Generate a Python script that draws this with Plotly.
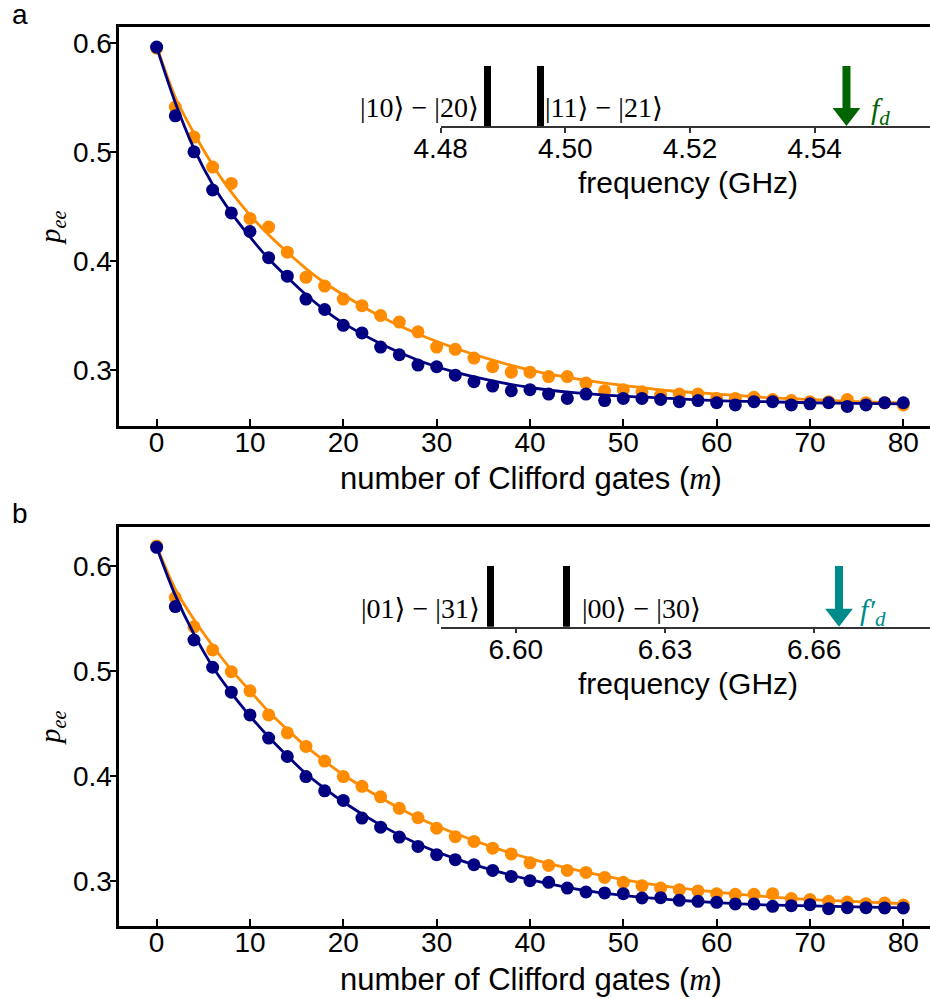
import plotly.graph_objects as go

W, H = 930, 999

# ---------------- data ----------------
m = [0, 2, 4, 6, 8, 10, 12, 14, 16, 18, 20, 22, 24, 26, 28, 30, 32, 34, 36, 38,
     40, 42, 44, 46, 48, 50, 52, 54, 56, 58, 60, 62, 64, 66, 68, 70, 72, 74, 76, 78, 80]

a_orange = [0.595, 0.541, 0.5135, 0.486, 0.471, 0.439, 0.431, 0.408, 0.385, 0.377,
            0.365, 0.359, 0.350, 0.344, 0.335, 0.321, 0.319, 0.311, 0.303, 0.298,
            0.298, 0.294, 0.294, 0.288, 0.281, 0.282, 0.280, 0.277, 0.278, 0.278,
            0.274, 0.274, 0.275, 0.273, 0.272, 0.271, 0.271, 0.273, 0.270, 0.270, 0.268]
a_blue = [0.596, 0.533, 0.500, 0.465, 0.444, 0.427, 0.403, 0.386, 0.365, 0.3555,
          0.341, 0.334, 0.321, 0.314, 0.3045, 0.303, 0.2953, 0.2893, 0.2853, 0.281,
          0.282, 0.278, 0.274, 0.278, 0.272, 0.274, 0.274, 0.273, 0.271, 0.272,
          0.270, 0.268, 0.271, 0.271, 0.268, 0.269, 0.270, 0.2666, 0.268, 0.270, 0.270]
b_orange = [0.619, 0.570, 0.542, 0.520, 0.4993, 0.481, 0.458, 0.441, 0.428, 0.414,
            0.3993, 0.390, 0.380, 0.369, 0.360, 0.350, 0.342, 0.3374, 0.331, 0.3255,
            0.317, 0.3146, 0.3098, 0.3079, 0.3031, 0.2984, 0.2952, 0.293, 0.2914, 0.2902,
            0.2876, 0.287, 0.287, 0.2876, 0.2829, 0.282, 0.2803, 0.2797, 0.2781, 0.2787, 0.2768]
b_blue = [0.6178, 0.5613, 0.5295, 0.5035, 0.4797, 0.458, 0.436, 0.4184, 0.3993, 0.3857,
          0.3765, 0.3597, 0.351, 0.3416, 0.3327, 0.3248, 0.320, 0.3152, 0.3098, 0.3041,
          0.300, 0.2984, 0.293, 0.2892, 0.2883, 0.2876, 0.2835, 0.2838, 0.2813, 0.2803,
          0.2794, 0.2778, 0.2778, 0.2756, 0.2762, 0.2771, 0.2733, 0.2743, 0.2743, 0.274, 0.274]

m_fit = [0, 2, 4, 6, 8, 10, 12, 14, 16, 18, 20, 24, 28, 32, 36, 40, 45, 50, 55, 60, 65, 70, 75, 80]
a_orange_fit = [0.597, 0.550, 0.517, 0.488, 0.463, 0.442, 0.424, 0.408, 0.393, 0.380, 0.369,
                0.349, 0.333, 0.320, 0.309, 0.300, 0.292, 0.286, 0.281, 0.278, 0.275, 0.273, 0.271, 0.270]
a_blue_fit = [0.596, 0.545, 0.503, 0.470, 0.444, 0.422, 0.402, 0.385, 0.369, 0.355, 0.343,
              0.324, 0.309, 0.298, 0.290, 0.284, 0.279, 0.276, 0.274, 0.272, 0.271, 0.270, 0.2695, 0.269]
b_orange_fit = [0.619, 0.578, 0.549, 0.524, 0.501, 0.481, 0.461, 0.444, 0.428, 0.414, 0.401,
                0.379, 0.360, 0.345, 0.332, 0.321, 0.310, 0.301, 0.294, 0.289, 0.285, 0.282, 0.280, 0.278]
b_blue_fit = [0.618, 0.572, 0.535, 0.504, 0.479, 0.457, 0.437, 0.419, 0.402, 0.388, 0.375,
              0.353, 0.335, 0.321, 0.310, 0.301, 0.292, 0.286, 0.282, 0.279, 0.277, 0.276, 0.275, 0.274]

m_ticks = [0, 10, 20, 30, 40, 50, 60, 70, 80]
p_ticks = [0.3, 0.4, 0.5, 0.6]

# inset a
freq_a_lines = [4.4875, 4.4960]
freq_a_labels = ["|10⟩ − |20⟩", "|11⟩ − |21⟩"]
freq_a_drive = 4.5451
freq_a_ticks = [4.48, 4.50, 4.52, 4.54]
# inset b
freq_b_lines = [6.5948, 6.6102]
freq_b_labels = ["|01⟩ − |31⟩", "|00⟩ − |30⟩"]
freq_b_drive = 6.6650
freq_b_ticks = [6.60, 6.63, 6.66]

ORANGE = "#FF8C00"
NAVY = "#000080"
GREEN = "#006400"
TEAL = "#008B8B"
SANS = "Liberation Sans, Arial, sans-serif"
SERIF = "Liberation Serif, DejaVu Serif, serif"
FS = 28

def px_x(p):
    return p / W

def px_y(p):
    return (H - p) / H

fig = go.Figure()

def add_panel(xa, ya, orange, blue, ofit, bfit):
    fig.add_trace(go.Scatter(x=m, y=orange, mode="markers", xaxis=xa, yaxis=ya,
                             marker=dict(color=ORANGE, size=13), showlegend=False))
    fig.add_trace(go.Scatter(x=m_fit, y=ofit, mode="lines", xaxis=xa, yaxis=ya,
                             line=dict(color=ORANGE, width=2.8, shape="spline", smoothing=0.8),
                             showlegend=False))
    fig.add_trace(go.Scatter(x=m, y=blue, mode="markers", xaxis=xa, yaxis=ya,
                             marker=dict(color=NAVY, size=13), showlegend=False))
    fig.add_trace(go.Scatter(x=m_fit, y=bfit, mode="lines", xaxis=xa, yaxis=ya,
                             line=dict(color=NAVY, width=2.8, shape="spline", smoothing=0.8),
                             showlegend=False))

add_panel("x", "y", a_orange, a_blue, a_orange_fit, a_blue_fit)
add_panel("x2", "y2", b_orange, b_blue, b_orange_fit, b_blue_fit)

def add_inset(xa, ya, lines, drive, color, bar_w, dom_h):
    fig.add_trace(go.Bar(x=lines, y=[1] * len(lines), xaxis=xa, yaxis=ya, width=bar_w,
                         marker=dict(color="black", line=dict(width=0)), showlegend=False))
    head = 24
    r = head / 2
    center = r / dom_h
    top = (r + r / 2) / dom_h
    fig.add_trace(go.Scatter(x=[drive, drive], y=[1, top - 0.03], mode="lines", xaxis=xa, yaxis=ya,
                             line=dict(color=color, width=8), showlegend=False))
    fig.add_trace(go.Scatter(x=[drive], y=[center], mode="markers", xaxis=xa, yaxis=ya,
                             marker=dict(symbol="triangle-down", size=head, color=color),
                             showlegend=False, cliponaxis=False))

add_inset("x3", "y3", freq_a_lines, freq_a_drive, GREEN, 0.00112, 60)
add_inset("x4", "y4", freq_b_lines, freq_b_drive, TEAL, 0.0014, 60.7)

main_x = dict(showline=True, linecolor="black", linewidth=2.5, mirror=True,
              ticks="inside", ticklen=7, tickwidth=2, tickcolor="black",
              tickvals=m_ticks, tickfont=dict(family=SANS, size=FS, color="black"),
              ticklabelstandoff=-10,
              showgrid=False, zeroline=False, range=[-4.0, 82.86], automargin=False)
main_y = dict(showline=True, linecolor="black", linewidth=2.5, mirror=False,
              ticks="outside", ticklen=7, tickwidth=2, tickcolor="black",
              tickvals=p_ticks, ticktext=[f"{v:.1f}" for v in p_ticks],
              tickfont=dict(family=SANS, size=FS, color="black"),
              ticklabelstandoff=-8,
              showgrid=False, zeroline=False, automargin=False)

inset_x = dict(showline=True, linecolor="#333333", linewidth=1.5,
               ticks="outside", ticklen=5, tickwidth=1.5, tickcolor="#333333",
               tickfont=dict(family=SANS, size=FS, color="black"),
               ticklabelstandoff=-8,
               showgrid=False, zeroline=False, automargin=False)
inset_y = dict(visible=False, range=[0, 1], showgrid=False, zeroline=False, automargin=False)

xl = px_x(119.3)
fig.update_layout(
    width=W, height=H,
    margin=dict(l=0, r=0, t=0, b=0, pad=0, autoexpand=False),
    paper_bgcolor="white", plot_bgcolor="rgba(0,0,0,0)",
    bargap=0,
    xaxis=dict(main_x, domain=[xl, 1.0], anchor="y"),
    yaxis=dict(main_y, domain=[px_y(426), px_y(26.7)], range=[0.2487, 0.6147], anchor="x"),
    xaxis2=dict(main_x, domain=[xl, 1.0], anchor="y2"),
    yaxis2=dict(main_y, domain=[px_y(926), px_y(526.7)], range=[0.2568, 0.6375], anchor="x2"),
    xaxis3=dict(inset_x, domain=[px_x(440.7), 1.0], anchor="y3", range=[4.48, 4.5585],
                tickvals=freq_a_ticks, ticktext=[f"{v:.2f}" for v in freq_a_ticks]),
    yaxis3=dict(inset_y, domain=[px_y(126), px_y(66)], anchor="x3"),
    xaxis4=dict(inset_x, domain=[px_x(440.7), 1.0], anchor="y4", range=[6.5849, 6.6833],
                tickvals=freq_b_ticks, ticktext=[f"{v:.2f}" for v in freq_b_ticks]),
    yaxis4=dict(inset_y, domain=[px_y(626.7), px_y(566)], anchor="x4"),
)

ann = []
# panel letters
for lab, yy in [("a", 15), ("b", 513)]:
    ann.append(dict(text=lab, x=px_x(20), y=px_y(yy), xref="paper", yref="paper",
                    showarrow=False, xanchor="center", yanchor="middle",
                    font=dict(family=SANS, size=FS, color="black")))
# y titles
for yy in [228, 728]:
    ann.append(dict(text="<i>p</i><sub><i>ee</i></sub>", x=px_x(52), y=px_y(yy),
                    xref="paper", yref="paper", showarrow=False, textangle=-90,
                    xanchor="center", yanchor="middle",
                    font=dict(family=SERIF, size=29, color="black")))
# x titles
for yy in [479, 979]:
    ann.append(dict(text="number of Clifford gates (<span style=\"font-family:Liberation Serif\"><i>m</i></span>)",
                    x=px_x(531), y=px_y(yy), xref="paper", yref="paper", showarrow=False,
                    xanchor="center", yanchor="middle",
                    font=dict(family=SANS, size=31, color="black")))
# inset titles
for yy in [183, 683]:
    ann.append(dict(text="frequency (GHz)", x=px_x(687.5), y=px_y(yy), xref="paper", yref="paper",
                    showarrow=False, xanchor="center", yanchor="middle",
                    font=dict(family=SANS, size=30, color="black")))
# transition labels
LFS = 28
ann.append(dict(text=freq_a_labels[0], x=freq_a_lines[0], y=0.3, xref="x3", yref="y3",
                showarrow=False, xanchor="right", yanchor="middle", xshift=-6,
                font=dict(family=SERIF, size=LFS, color="black")))
ann.append(dict(text=freq_a_labels[1], x=freq_a_lines[1], y=0.3, xref="x3", yref="y3",
                showarrow=False, xanchor="left", yanchor="middle", xshift=3,
                font=dict(family=SERIF, size=LFS, color="black")))
ann.append(dict(text=freq_b_labels[0], x=freq_b_lines[0], y=0.3, xref="x4", yref="y4",
                showarrow=False, xanchor="right", yanchor="middle", xshift=-8,
                font=dict(family=SERIF, size=LFS, color="black")))
ann.append(dict(text=freq_b_labels[1], x=freq_b_lines[1], y=0.3, xref="x4", yref="y4",
                showarrow=False, xanchor="left", yanchor="middle", xshift=13,
                font=dict(family=SERIF, size=LFS, color="black")))
# drive labels
ann.append(dict(text="<i>f</i><sub><i>d</i></sub>", x=freq_a_drive, y=0.25, xref="x3", yref="y3",
                showarrow=False, xanchor="left", yanchor="middle", xshift=23,
                font=dict(family=SERIF, size=30, color=GREEN)))
ann.append(dict(text="<i>f′</i><sub><i>d</i></sub>", x=freq_b_drive, y=0.25, xref="x4", yref="y4",
                showarrow=False, xanchor="left", yanchor="middle", xshift=19,
                font=dict(family=SERIF, size=30, color=TEAL)))

fig.update_layout(annotations=ann)
fig.write_html("out.html")
